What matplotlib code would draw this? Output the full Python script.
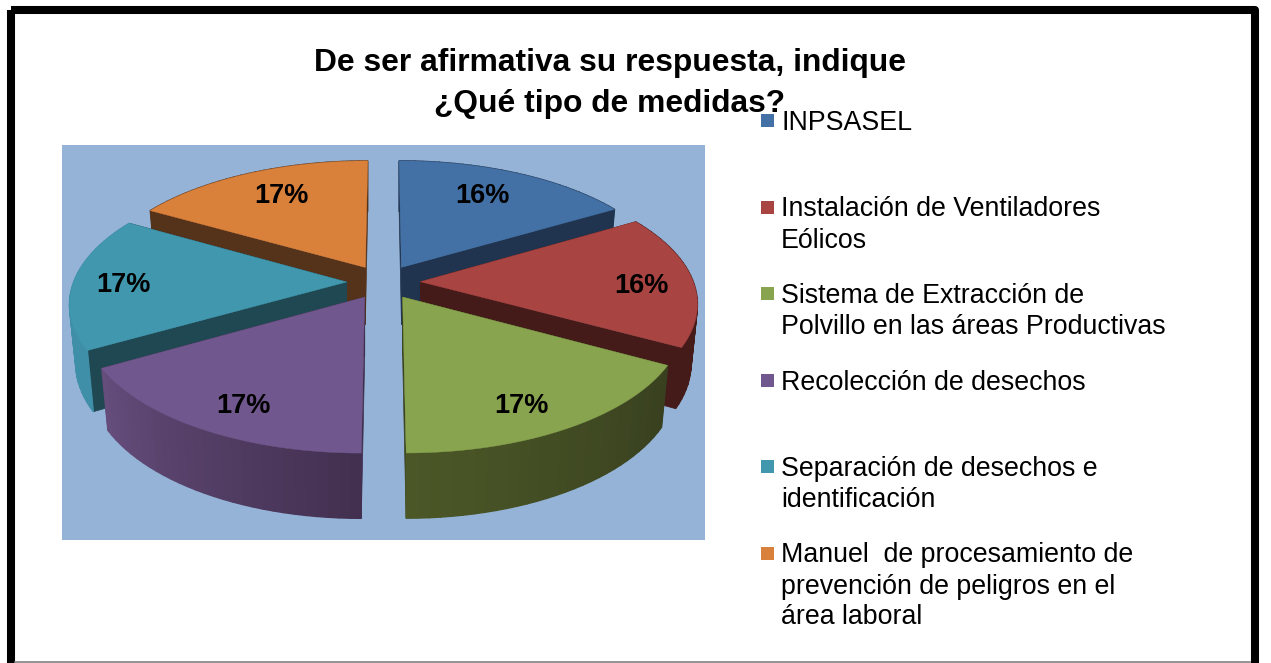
#!/usr/bin/env python3

import numpy as np
import matplotlib
matplotlib.use("Agg")
import matplotlib.pyplot as plt
from matplotlib.colors import to_rgb
from matplotlib.patches import Rectangle

# ---------------------------------------------------------------------------
# Data
# ---------------------------------------------------------------------------

title_lines = ["De ser afirmativa su respuesta, indique", "¿Qué tipo de medidas?"]

values = [16.49, 16.49, 17.02, 16.7, 16.6, 16.7]
pct_labels = ["16%", "16%", "17%", "17%", "17%", "17%"]

legend_labels = [
    ["INPSASEL"],
    ["Instalación de Ventiladores", "Eólicos"],
    ["Sistema de Extracción de", "Polvillo en las áreas Productivas"],
    ["Recolección de desechos"],
    ["Separación de desechos e", "identificación"],
    ["Manuel  de procesamiento de", "prevención de peligros en el", "área laboral"],
]

top_colors = ["#4371a6", "#a84442", "#89a44f", "#70578d", "#4097ae", "#d9803a"]
face_colors = ["#20344f", "#451b19", "#3a421e", "#3f2d4c", "#1f4852", "#55321a"]
# rim shade at the start and at the end of each slice (clockwise from the top)
rim_start = ["#20344f", "#451b19", "#38401f", "#433050", "#3f8fa9", "#55321a"]
rim_end = ["#20344f", "#451b19", "#4b5727", "#654d7c", "#3f8fa9", "#55321a"]

# ---------------------------------------------------------------------------
# Layout (figure pixels)
# ---------------------------------------------------------------------------

W, H = 1271, 663
BG = "#95b3d7"

CX, CY = 383.5, 282     # pie centre on screen
RX, RY = 273, 127       # screen radii of the top plane
PERSP = 0.153           # back of the pie shrinks, front grows
EXPLODE = 0.135         # slice offset, in pie radii
SHRINK = 0.977          # bottom plane is a bit narrower than the top one

PCT_POS = [(482, 196), (641, 286), (521, 406), (243, 406), (123, 285), (281, 196)]
LEGEND_X, LEGEND_Y, LEGEND_STEP, LINE_STEP = 781, 130, 86.5, 31

DRAW_ORDER = [5, 0, 4, 1, 3, 2]  # back to front

# ---------------------------------------------------------------------------
# Helpers
# ---------------------------------------------------------------------------

def project(theta, radius, mid):
    """Screen position of a pie-plane point; theta runs clockwise from the top."""
    u = radius * np.sin(theta) + EXPLODE * np.sin(mid)
    v = -radius * np.cos(theta) - EXPLODE * np.cos(mid)
    s = 1 / (1 - PERSP * v)
    return CX + RX * u * s, CY + RY * v * s, v

def lower(x, y, v, apex_x):
    """Same point on the bottom plane of the slab."""
    return apex_x + SHRINK * (x - apex_x), y + 58 + 6.5 * v

def blend(c0, c1, t):
    return tuple((1 - t) * a + t * b for a, b in zip(to_rgb(c0), to_rgb(c1)))

# ---------------------------------------------------------------------------
# Drawing
# ---------------------------------------------------------------------------

def draw_slice(ax, t0, t1, i):
    mid = (t0 + t1) / 2
    ax_, ay_, av_ = project(0, 0, mid)
    bx_, by_ = lower(ax_, ay_, av_, ax_)

    # cut faces
    for t in (t0, t1):
        x, y, v = project(t, 1, mid)
        xb, yb = lower(x, y, v, ax_)
        ax.fill([ax_, x, xb, bx_], [ay_, y, yb, by_],
                color=face_colors[i], lw=0.5)

    # outer rim, in thin strips for the shading
    thetas = np.linspace(t0, t1, 31)
    for k in range(30):
        xa, ya, va = project(thetas[k], 1, mid)
        xc, yc, vc = project(thetas[k + 1], 1, mid)
        xab, yab = lower(xa, ya, va, ax_)
        xcb, ycb = lower(xc, yc, vc, ax_)
        col = blend(rim_start[i], rim_end[i], k / 29)
        ax.fill([xa, xc, xcb, xab], [ya, yc, ycb, yab], color=col, lw=1.0)

    # top
    thetas = np.linspace(t0, t1, 80)
    xs, ys, _ = project(thetas, 1, mid)
    ax.fill(np.r_[ax_, xs], np.r_[ay_, ys], color=top_colors[i], lw=0.3)

def draw_pie(ax):
    edges = np.r_[0, np.cumsum(values)] / np.sum(values) * 2 * np.pi
    for i in DRAW_ORDER:
        draw_slice(ax, edges[i], edges[i + 1], i)
    for (x, y), label in zip(PCT_POS, pct_labels):
        ax.text(x, y, label, fontsize=19.5, fontweight="bold", color="black",
                ha="center", va="center")

def draw_legend(ax):
    for i, lines in enumerate(legend_labels):
        y0 = LEGEND_Y + i * LEGEND_STEP
        ax.add_patch(Rectangle((761, y0 - 16), 13, 13, color=top_colors[i], lw=0))
        for j, line in enumerate(lines):
            ax.text(LEGEND_X, y0 + j * LINE_STEP, line, fontsize=19.3,
                    color="black", ha="left", va="baseline")

def draw_frame(ax):
    ax.plot([15, 1250], [662, 662], color="#808080", lw=1.2)
    ax.add_patch(Rectangle((11, 9.5), 1243.5, 700, fill=False, ec="black", lw=5.8,
                           joinstyle="round"))

# ---------------------------------------------------------------------------
# Main
# ---------------------------------------------------------------------------

def main():
    plt.rcParams["font.family"] = ["Liberation Sans", "DejaVu Sans"]

    fig = plt.figure(figsize=(W / 100, H / 100), dpi=100)
    ax = fig.add_axes([0, 0, 1, 1])
    ax.set_xlim(0, W)
    ax.set_ylim(H, 0)
    ax.axis("off")

    draw_frame(ax)
    ax.add_patch(Rectangle((62, 145), 643, 395, color=BG, lw=0))
    draw_pie(ax)
    draw_legend(ax)

    ax.text(609.5, 71, title_lines[0], fontsize=22.9, fontweight="bold",
            ha="center", va="baseline")
    ax.text(609.5, 112, title_lines[1], fontsize=22.9, fontweight="bold",
            ha="center", va="baseline")

    fig.savefig("out.png", dpi=100)

if __name__ == "__main__":
    main()
